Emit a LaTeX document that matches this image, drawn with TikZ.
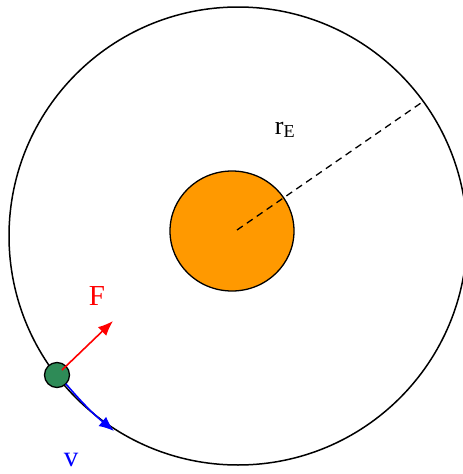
\documentclass[tikz,border=0pt]{standalone}
\usepackage{fontspec}
\setmainfont{Liberation Serif}
\usetikzlibrary{arrows.meta,positioning,shapes.geometric}
\definecolor{sunorange}{RGB}{255,153,0}
\definecolor{planetgreen}{RGB}{46,139,87}

\begin{document}
\begin{tikzpicture}[x=1pt, y=-1pt, every node/.style={inner sep=0pt, outer sep=0pt}]
\useasboundingbox (0,0) rectangle (463,474);
\node[circle, draw, line width=1.5pt, minimum size=458pt] (orbit) at (238,236) {};
\node[ellipse, draw, line width=1.3pt, fill=sunorange, minimum width=124pt, minimum height=120pt] (sun) at (232,231) {};
\draw[dashed, line width=1.3pt, dash pattern=on 7pt off 5pt] (237,230) -- (orbit.36);
\node[font=\fontsize{26}{28}\selectfont] (rlabel) at (285,130) {r\textsubscript{E}};
\node[circle, draw, line width=1.3pt, fill=planetgreen, minimum size=25pt] (planet) at (57,375) {};
\coordinate (ftip) at (113,321);
\coordinate (vtip) at (114,431);
\draw[red, line width=1.6pt, -{Latex[length=15pt,width=12pt]}] (62,370) -- (ftip);
\draw[blue, line width=1.6pt, -{Latex[length=15pt,width=12pt]}] (planet.-45) to[bend right=5] (vtip);
\node[red, font=\fontsize{29}{31}\selectfont] (flabel) at (97,296) {F};
\node[blue, font=\fontsize{29}{31}\selectfont] (vlabel) at (71,460) {v};
\end{tikzpicture}
\end{document}
